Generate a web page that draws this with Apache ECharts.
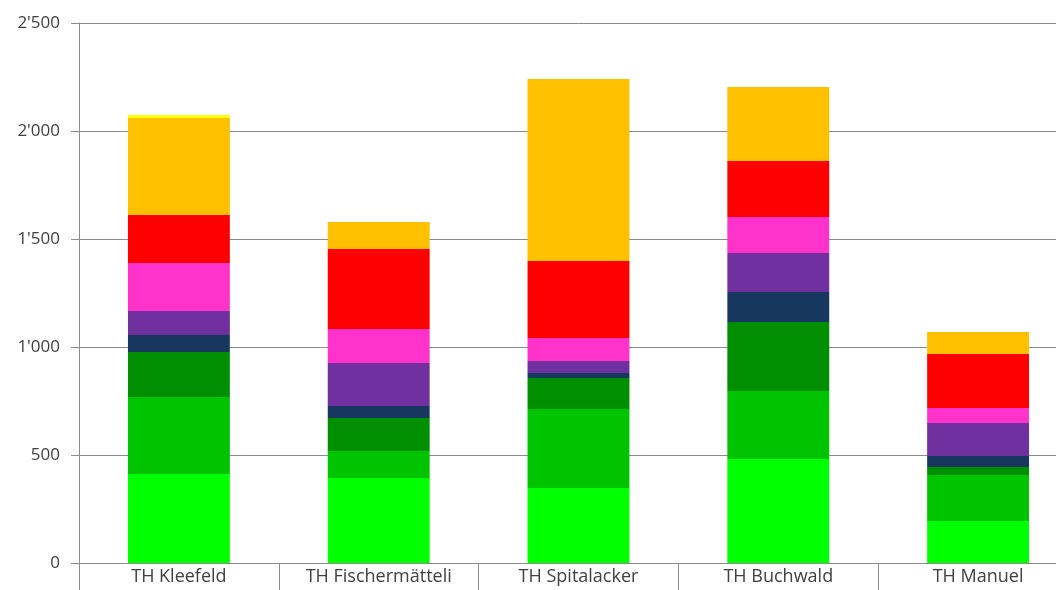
<!DOCTYPE html>
<html>
<head>
<meta charset="utf-8">
<script src="https://cdn.jsdelivr.net/npm/echarts@6/dist/echarts.min.js"></script>
<style>html,body{margin:0;padding:0;background:#fff;overflow:hidden}#c{width:1078px;height:590px}</style>
</head>
<body>
<div id="c"></div>
<script>
var categories = ['TH Kleefeld', 'TH Fischermätteli', 'TH Spitalacker', 'TH Buchwald', 'TH Manuel'];
var yTicks = [0, 500, 1000, 1500, 2000, 2500];
var brightGreen = [412, 394, 347, 481, 194];
var mediumGreen = [357, 125, 366, 315, 213];
var darkGreen   = [208, 152, 143, 320, 37];
var navy        = [79, 56, 24, 139, 51];
var purple      = [111, 199, 55, 180, 153];
var pink        = [222, 157, 107, 167, 70];
var red         = [222, 371, 356, 259, 250];
var orange      = [449, 125, 843, 343, 101];
var yellow      = [14, 0, 0, 0, 0];

var seriesDefs = [
  ['s1', brightGreen, '#00FF00'],
  ['s2', mediumGreen, '#00C400'],
  ['s3', darkGreen, '#008F00'],
  ['s4', navy, '#17375E'],
  ['s5', purple, '#7030A0'],
  ['s6', pink, '#FF33CC'],
  ['s7', red, '#FF0000'],
  ['s8', orange, '#FFC000'],
  ['s9', yellow, '#FFFF00']
];

function fmt(v) {
  var s = String(v);
  return s.length > 3 ? s.slice(0, s.length - 3) + "'" + s.slice(-3) : s;
}

var chart = echarts.init(document.getElementById('c'), null, {renderer: 'canvas'});
chart.setOption({
  animation: false,
  grid: {left: 79, top: 23, right: 0, bottom: 27, containLabel: false},
  xAxis: {
    type: 'category',
    data: categories,
    boundaryGap: true,
    axisLine: {lineStyle: {color: '#8c8c8c', width: 1}},
    axisTick: {show: true, interval: 0, length: 27, lineStyle: {color: '#8c8c8c'}},
    axisLabel: {color: '#404040', fontSize: 18, fontFamily: 'Open Sans', margin: 5, interval: 0}
  },
  yAxis: {
    type: 'value',
    min: yTicks[0],
    max: yTicks[yTicks.length - 1],
    interval: 500,
    axisLine: {show: true, lineStyle: {color: '#8c8c8c', width: 1}},
    axisTick: {show: true, length: 8, lineStyle: {color: '#8c8c8c'}},
    splitLine: {show: true, lineStyle: {color: '#8c8c8c', width: 1}},
    axisLabel: {color: '#404040', fontSize: 17, fontFamily: 'Open Sans', margin: 19, formatter: fmt}
  },
  series: seriesDefs.map(function (d) {
    return {
      name: d[0], type: 'bar', stack: 'total', data: d[1],
      barWidth: '51%',
      itemStyle: {color: d[2]}
    };
  })
});
</script>
</body>
</html>
